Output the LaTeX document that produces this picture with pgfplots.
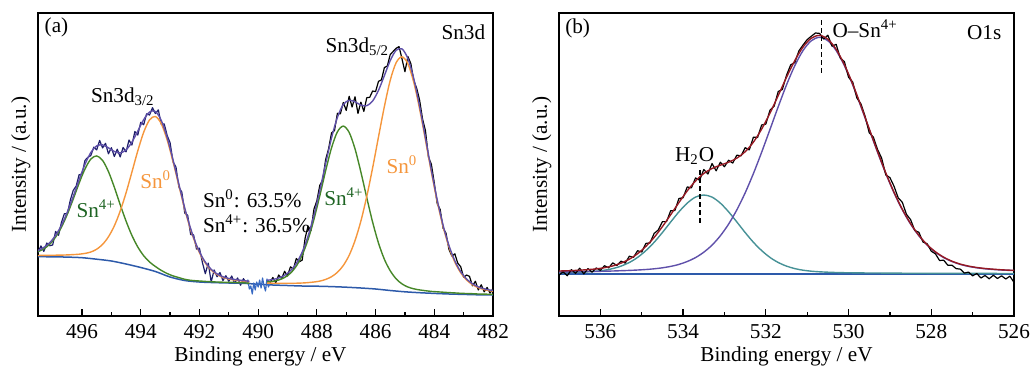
\documentclass[border=0pt]{standalone}
\usepackage{fontspec}
\setmainfont{Liberation Serif}
\usepackage{pgfplots}
\pgfplotsset{compat=1.18}
\usepackage{pgfplotstable}
\definecolor{navyd}{RGB}{30,30,105}
\definecolor{midblue}{RGB}{55,105,195}
\definecolor{bgblue}{RGB}{45,90,170}
\definecolor{fitgreen}{RGB}{70,135,40}
\definecolor{txtgreen}{RGB}{30,100,35}
\definecolor{fitorange}{RGB}{245,150,60}
\definecolor{fitpurple}{RGB}{95,80,170}
\definecolor{envred}{RGB}{150,25,35}
\definecolor{fitteal}{RGB}{70,145,150}
\newcommand\lf{\fontsize{10.6}{12}\selectfont}

\pgfplotstableread{
E g o e
497.5 64.3 60.5 65.5
497.3 67.2 60.7 68.6
497.1 71.8 60.7 73.3
496.9 78.9 60.8 80.6
496.7 88.9 60.9 90.8
496.5 101.8 61.1 104.0
496.3 116.9 61.4 119.6
496.1 132.8 61.8 136.2
495.9 147.0 62.6 151.6
495.7 156.9 64.0 163.5
495.5 160.1 66.8 170.1
495.3 155.6 71.6 171.1
495.1 144.4 79.2 168.2
494.9 128.8 90.1 164.5
494.7 111.4 104.9 163.1
494.5 94.9 123.2 166.1
494.3 80.5 144.0 173.9
494.1 69.0 165.2 185.0
493.9 60.3 183.7 196.3
493.7 54.0 196.1 204.0
493.5 49.5 199.5 204.5
493.3 45.6 192.3 195.6
493.1 42.5 176.1 178.5
492.9 40.1 154.3 156.1
492.7 38.4 130.3 131.8
492.5 36.7 106.7 107.9
492.3 35.7 86.3 87.4
492.1 35.2 69.9 70.9
491.9 34.8 57.7 58.6
491.7 34.4 49.1 49.9
491.5 34.1 43.4 44.1
491.3 33.9 39.8 40.5
491.1 33.7 37.7 38.3
490.9 33.6 36.4 37.0
490.7 33.4 35.6 36.1
490.5 33.2 34.9 35.4
490.3 32.8 34.3 34.7
}\tabL

\pgfplotstableread{
E g o e
489.7 34.0 32.9 35.7
489.5 34.7 32.8 36.5
489.3 36.0 32.8 38.0
489.1 38.5 32.8 40.7
488.9 42.8 32.8 45.2
488.7 49.9 32.8 52.5
488.5 60.9 33.0 63.9
488.3 76.4 33.4 79.9
488.1 96.6 34.0 100.8
487.9 120.3 34.9 125.6
487.7 145.4 36.6 152.5
487.5 168.2 39.3 178.1
487.3 184.2 43.7 198.7
487.1 189.9 50.5 211.5
486.9 183.6 60.7 215.7
486.7 167.1 75.4 214.2
486.5 143.9 95.0 210.9
486.3 118.3 119.6 210.3
486.1 93.8 148.2 215.0
485.9 72.9 179.2 225.7
485.7 56.7 209.5 240.4
485.5 45.2 235.8 255.5
485.3 37.2 253.3 265.7
485.1 32.1 259.2 267.1
484.9 29.0 252.3 257.5
484.7 27.2 233.8 237.5
484.5 26.1 207.0 209.8
484.3 25.3 175.8 178.1
484.1 24.6 143.9 145.8
483.9 24.2 114.5 116.2
483.7 23.8 89.3 90.8
483.5 23.4 69.1 70.5
483.3 23.1 53.9 55.2
483.1 22.7 43.2 44.3
482.9 22.5 36.0 37.0
482.7 22.3 31.3 32.2
482.5 22.0 28.3 29.1
482.3 21.9 26.4 27.2
482.1 21.7 25.2 25.9
482.0 21.7 24.9 25.6
}\tabR

\pgfplotstableread{
E b
497.5 59.3
497.0 59.2
496.5 58.9
496.0 58.3
495.5 56.8
495.0 55.0
494.5 52.0
494.0 48.5
493.5 44.5
493.0 39.0
492.5 35.5
492.0 34.0
491.5 33.4
491.0 33.0
490.5 32.7
490.0 31.8
489.5 31.0
489.0 30.5
488.5 30.0
488.0 29.8
487.5 29.4
487.0 28.8
486.5 28.0
486.0 27.0
485.5 25.5
485.0 24.2
484.5 23.3
484.0 22.6
483.5 22.0
483.0 21.6
482.5 21.2
482.0 21.0
}\tabBG

\pgfplotstableread{
E p t e
537.0 44.0 43.3 45.0
536.9 44.1 43.3 45.1
536.7 44.2 43.5 45.4
536.5 44.3 43.8 45.8
536.3 44.5 44.2 46.4
536.1 44.6 44.8 47.1
535.9 44.8 45.8 48.3
535.7 45.0 47.4 50.1
535.5 45.3 49.9 52.9
535.3 45.6 53.5 56.8
535.1 46.0 58.6 62.3
534.9 46.5 65.4 69.6
534.7 47.2 73.7 78.6
534.5 48.2 83.5 89.4
534.3 49.6 94.0 101.3
534.1 51.6 104.2 113.5
533.9 54.5 112.9 125.1
533.7 58.4 118.9 135.0
533.5 63.8 121.0 142.5
533.3 70.9 118.9 147.5
533.1 80.2 112.9 150.8
532.9 91.9 104.2 153.8
532.7 106.2 94.0 157.9
532.5 123.1 83.5 164.3
532.3 142.5 73.7 173.9
532.1 163.9 65.4 187.0
531.9 186.5 58.6 202.8
531.7 209.3 53.5 220.5
531.5 231.1 49.9 238.7
531.3 250.3 47.4 255.4
531.1 265.5 45.8 269.0
530.9 275.3 44.8 277.8
530.7 278.7 44.2 280.6
530.5 275.3 43.8 276.8
530.3 265.5 43.5 266.7
530.1 250.3 43.3 251.3
529.9 231.1 43.2 232.0
529.7 209.3 43.1 210.1
529.5 186.5 43.0 187.2
529.3 163.9 43.0 164.6
529.1 142.5 42.9 143.1
528.9 123.1 42.9 123.7
528.7 106.2 42.8 106.7
528.5 91.9 42.8 92.4
528.3 80.2 42.8 80.7
528.1 70.9 42.7 71.3
527.9 63.8 42.7 64.2
527.7 58.4 42.7 58.8
527.5 54.5 42.6 54.8
527.3 51.6 42.6 51.9
527.1 49.6 42.6 49.9
526.9 48.2 42.6 48.5
526.7 47.2 42.6 47.5
526.5 46.5 42.6 46.8
526.3 46.0 42.5 46.2
526.1 45.6 42.5 45.8
526.0 45.5 42.5 45.7
}\tabB

\pgfplotsset{
  xpsaxis/.style={
    scale only axis, width=227.5pt, height=151.5pt,
    x dir=reverse, ymin=0, ymax=303, ytick=\empty,
    xtick pos=left, tick align=inside,
    major tick length=3.4pt, minor tick length=1.8pt,
    minor x tick num=1,
    axis line style={line width=0.7pt},
    every tick/.style={black, line width=0.6pt},
    /pgf/number format/assume math mode=true,
    tick label style={font=\lf},
    xticklabel style={anchor=base, yshift=-11.2pt},
    label style={font=\lf},
    xlabel={Binding energy / eV},
    ylabel={Intensity / (a.u.)},
    ylabel style={at={(axis description cs:-0.038,0.5)}, anchor=center},
    every axis plot/.append style={line join=round},
  }
}

\begin{document}
\begin{tikzpicture}
\path[use as bounding box] (0,0) rectangle (515.5pt,182.5pt);

% ---------------- panel (a) ----------------
\begin{axis}[xpsaxis, at={(19pt,24.5pt)}, anchor=south west,
  xmin=482, xmax=497.5, xtick={482,484,...,496},
  xlabel style={at={(axis description cs:0.489,0)}, anchor=base, yshift=-22.85pt}]
\addplot[navyd, line width=0.6pt] coordinates {(497.5,63.5)(497.4,70.1)(497.3,64.6)(497.2,73.0)(497.1,70.3)(497.0,71.0)(496.9,84.6)(496.8,80.7)(496.7,93.8)(496.6,102.4)(496.5,102.0)(496.4,115.8)(496.3,125.6)(496.2,129.9)(496.1,141.2)(496.0,141.9)(495.9,155.6)(495.8,158.6)(495.7,160.5)(495.6,168.8)(495.5,166.1)(495.4,175.6)(495.3,168.1)(495.2,172.7)(495.1,162.2)(495.0,168.4)(494.9,159.5)(494.8,166.8)(494.7,159.1)(494.6,168.6)(494.5,164.1)(494.4,176.0)(494.3,170.9)(494.2,184.5)(494.1,181.0)(494.0,193.7)(493.9,191.3)(493.8,202.2)(493.7,201.0)(493.6,208.3)(493.5,202.5)(493.4,206.1)(493.3,191.6)(493.2,192.1)(493.1,180.5)(493.0,173.3)(492.9,154.1)(492.8,149.0)(492.7,128.8)(492.6,123.9)(492.5,102.9)(492.4,100.7)(492.3,81.4)(492.2,81.2)(492.1,66.9)(492.0,67.8)(491.9,53.6)(491.8,42.3)(491.7,52.9)(491.6,34.0)(491.5,46.1)(491.4,39.3)(491.3,43.5)(491.2,35.4)(491.1,40.3)(491.0,34.7)(490.9,40.0)(490.8,32.6)(490.7,38.1)(490.6,30.8)(490.5,37.4)(490.4,32.1)};
\addplot[black, line width=0.6pt] coordinates {(489.6,33.1)(489.5,38.5)(489.4,33.3)(489.3,41.0)(489.2,37.4)(489.1,44.7)(489.0,40.0)(488.9,49.2)(488.8,46.9)(488.7,57.5)(488.6,54.2)(488.5,55.9)(488.4,77.9)(488.3,89.9)(488.2,85.4)(488.1,106.8)(488.0,115.2)(487.9,130.6)(487.8,136.1)(487.7,156.5)(487.6,167.3)(487.5,183.1)(487.4,185.4)(487.3,202.7)(487.2,202.1)(487.1,213.5)(487.0,205.6)(486.9,219.7)(486.8,209.0)(486.7,219.2)(486.6,202.6)(486.5,213.9)(486.4,204.6)(486.3,218.3)(486.2,218.7)(486.1,225.0)(486.0,224.4)(485.9,234.7)(485.8,236.1)(485.7,248.4)(485.6,250.0)(485.5,261.5)(485.4,264.6)(485.3,267.7)(485.2,269.4)(485.1,257.1)(485.0,244.3)(484.9,259.5)(484.8,252.5)(484.7,235.5)(484.6,227.7)(484.5,215.8)(484.4,197.0)(484.3,185.1)(484.2,159.0)(484.1,151.8)(484.0,133.0)(483.9,112.2)(483.8,106.5)(483.7,87.8)(483.6,82.7)(483.5,66.5)(483.4,59.9)(483.3,62.2)(483.2,52.8)(483.1,49.3)(483.0,38.7)(482.9,41.0)(482.8,39.6)(482.7,30.2)(482.6,34.7)(482.5,26.1)(482.4,31.2)(482.3,24.2)(482.2,28.6)(482.1,22.9)(482.0,27.6)};
\addplot[bgblue, line width=0.75pt, smooth] table[x=E,y=b] {\tabBG};
\addplot[midblue, line width=0.6pt] coordinates {(490.40,32.1)(490.35,36)(490.30,27)(490.25,30)(490.20,22)(490.15,33)(490.10,26)(490.05,34)(490.00,29)(489.95,36)(489.90,28)(489.85,38)(489.80,30)(489.75,25)(489.70,37)(489.65,29)(489.60,33.1)};
\addplot[fitgreen, line width=0.7pt, smooth] table[x=E,y=g] {\tabL};
\addplot[fitorange, line width=0.7pt, smooth] table[x=E,y=o] {\tabL};
\addplot[fitpurple, line width=0.7pt, smooth] table[x=E,y=e] {\tabL};
\addplot[fitgreen, line width=0.7pt, smooth] table[x=E,y=g] {\tabR};
\addplot[fitorange, line width=0.7pt, smooth] table[x=E,y=o] {\tabR};
\addplot[fitpurple, line width=0.7pt, smooth] table[x=E,y=e] {\tabR};
\node[font=\lf, inner sep=0pt] at (axis cs:496.87,289) {(a)};
\node[font=\lf, inner sep=0pt, anchor=base] at (axis cs:483.01,276.7) {Sn3d};
\node[font=\lf, inner sep=0pt, anchor=base] at (axis cs:486.62,263.7) {Sn3d\textsubscript{5/2}};
\node[font=\lf, inner sep=0pt, anchor=base] at (axis cs:494.61,213.3) {Sn3d\textsubscript{3/2}};
\node[font=\lf, inner sep=0pt, anchor=base, text=txtgreen] at (axis cs:495.52,98.7) {Sn\textsuperscript{4+}};
\node[font=\lf, inner sep=0pt, anchor=base, text=fitorange] at (axis cs:493.49,127.7) {Sn\textsuperscript{0}};
\node[font=\lf, inner sep=0pt, anchor=base west] at (axis cs:491.89,108.7) {Sn\textsuperscript{0}: 63.5\%};
\node[font=\lf, inner sep=0pt, anchor=base west] at (axis cs:491.89,83.7) {Sn\textsuperscript{4+}: 36.5\%};
\node[font=\lf, inner sep=0pt, anchor=base, text=txtgreen] at (axis cs:487.08,110.3) {Sn\textsuperscript{4+}};
\node[font=\lf, inner sep=0pt, anchor=base, text=fitorange] at (axis cs:485.10,142.7) {Sn\textsuperscript{0}};
\end{axis}

% ---------------- panel (b) ----------------
\begin{axis}[xpsaxis, at={(279.5pt,24.5pt)}, anchor=south west,
  xmin=526, xmax=537, xtick={526,528,...,536},
  xlabel style={at={(axis description cs:0.5,0)}, anchor=base, yshift=-22.85pt}]
\addplot[bgblue, line width=0.8pt] coordinates {(537,42.3)(526,42.3)};
\addplot[fitteal, line width=0.7pt, smooth] table[x=E,y=t] {\tabB};
\addplot[fitpurple, line width=0.7pt, smooth] table[x=E,y=p] {\tabB};
\addplot[black, line width=0.6pt] coordinates {(537.0,41.0)(536.9,44.1)(536.8,40.3)(536.7,46.4)(536.6,42.6)(536.5,47.8)(536.4,42.1)(536.3,47.4)(536.2,43.8)(536.1,48.1)(536.0,45.7)(535.9,50.3)(535.8,48.2)(535.7,53.1)(535.6,50.5)(535.5,54.9)(535.4,52.9)(535.3,59.8)(535.2,58.6)(535.1,65.3)(535.0,64.0)(534.9,72.6)(534.8,73.1)(534.7,82.6)(534.6,86.0)(534.5,94.4)(534.4,94.4)(534.3,105.3)(534.2,105.4)(534.1,117.5)(534.0,118.3)(533.9,129.1)(533.8,128.1)(533.7,138.0)(533.6,135.8)(533.5,146.5)(533.4,142.0)(533.3,152.5)(533.2,145.2)(533.1,153.8)(533.0,149.3)(532.9,155.8)(532.8,152.9)(532.7,160.9)(532.6,160.1)(532.5,168.3)(532.4,166.1)(532.3,178.9)(532.2,178.5)(532.1,191.0)(532.0,191.9)(531.9,205.8)(531.8,209.7)(531.7,224.5)(531.6,226.6)(531.5,240.7)(531.4,251.1)(531.3,253.4)(531.2,265.2)(531.1,271.0)(531.0,276.4)(530.9,279.8)(530.8,283.0)(530.7,282.6)(530.6,277.0)(530.5,280.8)(530.4,269.8)(530.3,271.7)(530.2,258.0)(530.1,254.3)(530.0,238.7)(529.9,234.0)(529.8,218.1)(529.7,212.1)(529.6,199.7)(529.5,183.2)(529.4,178.9)(529.3,166.6)(529.2,157.9)(529.1,141.1)(529.0,138.4)(528.9,129.7)(528.8,118.2)(528.7,113.7)(528.6,101.6)(528.5,96.4)(528.4,85.6)(528.3,83.7)(528.2,74.0)(528.1,72.3)(528.0,64.8)(527.9,62.2)(527.8,55.5)(527.7,55.8)(527.6,50.8)(527.5,50.8)(527.4,47.4)(527.3,46.9)(527.2,42.9)(527.1,43.9)(527.0,40.2)(526.9,42.5)(526.8,38.0)(526.7,40.5)(526.6,37.2)(526.5,40.8)(526.4,37.5)(526.3,40.2)(526.2,37.0)(526.1,39.8)(526.0,33.7)};
\addplot[envred, line width=0.7pt, smooth] table[x=E,y=e] {\tabB};
\addplot[black, line width=0.6pt, dash pattern=on 2.5pt off 1.5pt] coordinates {(530.66,296)(530.66,241)};
\addplot[black, line width=0.6pt, dash pattern=on 2.5pt off 1.5pt] coordinates {(533.59,146)(533.59,91)};
\node[font=\lf, inner sep=0pt] at (axis cs:536.55,288) {(b)};
\node[font=\lf, inner sep=0pt, anchor=base] at (axis cs:526.72,276.7) {O1s};
\node[font=\lf, inner sep=0pt, anchor=base] at (axis cs:529.60,279) {O--Sn\textsuperscript{4+}};
\node[font=\lf, inner sep=0pt, anchor=base] at (axis cs:533.72,154.3) {H\textsubscript{2}O};
\end{axis}
\end{tikzpicture}
\end{document}
